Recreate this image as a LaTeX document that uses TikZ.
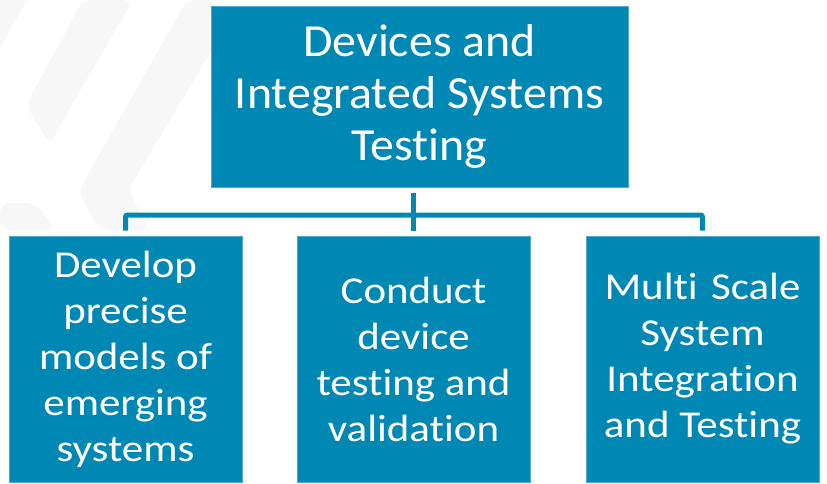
\documentclass[tikz,border=0pt]{standalone}
\usepackage{fontspec}
\setmainfont{Carlito}[Ligatures=NoCommon]
\newfontfamily\topfont[FakeStretch=1.04,Ligatures=NoCommon]{Carlito}
\newfontfamily\subfont[FakeStretch=1.13,Ligatures=NoCommon]{Carlito}
\usetikzlibrary{calc}
\definecolor{boxblue}{RGB}{0,136,180}
\definecolor{edgeblue}{RGB}{80,170,205}
\definecolor{bggray}{RGB}{247,247,247}
\begin{document}
\begin{tikzpicture}[x=1pt,y=-1pt,
  topbox/.style={rectangle, fill=boxblue, draw=edgeblue, line width=0.8pt, inner sep=0pt,
    minimum width=417pt, minimum height=181pt, text=white, align=center,
    font=\topfont\fontsize{46}{52}\selectfont},
  subbox/.style={rectangle, fill=boxblue, draw=edgeblue, line width=0.8pt, inner sep=0pt,
    minimum width=233pt, minimum height=246pt, text=white, align=center,
    font=\subfont\fontsize{38}{46}\selectfont},
  conn/.style={draw=boxblue, line width=5pt},
  deco/.style={fill=bggray, draw=none, rounded corners=10pt}]
\useasboundingbox (0,0) rectangle (827,484);
\fill[white] (0,0) rectangle (827,484);
% faint background decoration
\fill[bggray] (0,0) -- (27,0) -- (0,48) -- cycle;
\path[deco] (83,0) -- (133,0) -- (66,115) -- (50,145) -- (26,105) -- cycle;
\path[deco] (187,0) -- (215,0) -- (215,45) -- (128,190) -- (150,230) -- (100,230) -- (78,192) -- cycle;
\path[deco] (0,203) -- (35,203) -- (57,230) -- (0,230) -- cycle;
% boxes
\node[topbox] (top) at (419.5,96.5) {Devices and\\Integrated Systems\\Testing};
\node[subbox] (left) at (125.5,359) {Develop\\precise\\models of\\emerging\\systems};
\node[subbox] (mid) at (413.5,359) {Conduct\\device\\testing and\\validation};
\node[subbox] (right) at (702.5,359) {Multi\hspace{0.35em}Scale\\System\\Integration\\and Testing};
% connectors
\coordinate (bus) at (413.5,215);
\draw[conn] ($(top.south -| mid.north)+(0,6)$) -- ($(mid.north)+(0,-5)$);
\draw[conn, rounded corners=2pt] ($(left.north)+(0,-5)$) |- (bus) -| ($(right.north)+(0,-5)$);
\end{tikzpicture}
\end{document}
